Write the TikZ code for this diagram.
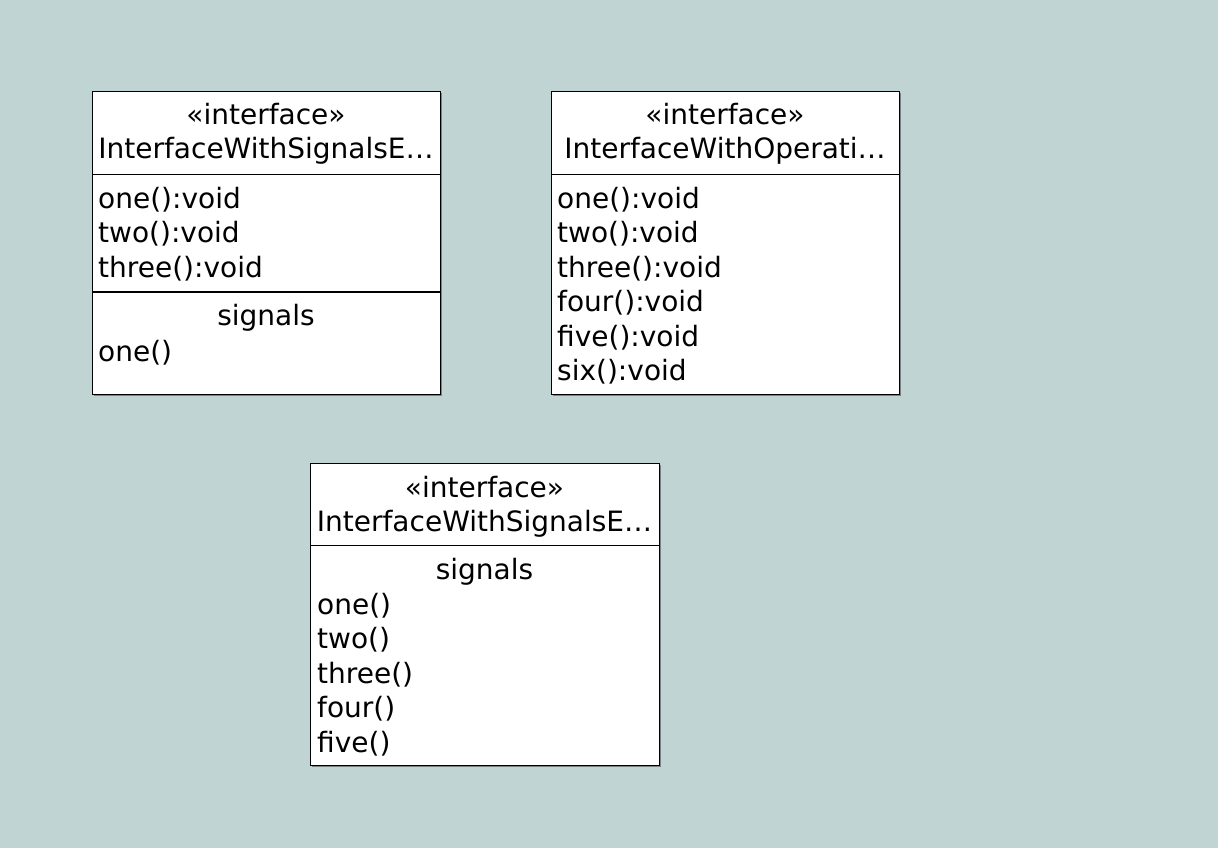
\documentclass[tikz,border=0pt]{standalone}
\usepackage{fontspec}
\setmainfont{DejaVu Sans}
\definecolor{bgc}{RGB}{191,212,211}
\definecolor{shd}{RGB}{120,130,130}
\begin{document}
\begin{tikzpicture}[x=1pt,y=-1pt,
  umlbox/.style={draw=black,fill=white,line width=1.3pt,inner sep=0pt,anchor=north west},
  shadowline/.style={draw=shd,line width=0.8pt},
  divline/.style={draw=black,line width=1.3pt},
  lbl/.style={inner sep=0pt,anchor=base west,font=\fontsize{28}{34}\selectfont},
  ttl/.style={inner sep=0pt,anchor=base,font=\fontsize{28}{34}\selectfont}]
\useasboundingbox (0,0) rectangle (1231,861);
\fill[white] (0,0) rectangle (1231,861);
\fill[bgc] (0,0) rectangle (1218,848);
% Box 1
\draw[shadowline] (441.5,93) -- (441.5,395.5) -- (94,395.5);
\node[umlbox,minimum width=348pt,minimum height=303pt] (b1) at (92,91) {};
\coordinate (b1d1) at (92,174.5);
\coordinate (b1d2) at (92,292);
\draw[divline] (b1d1) -- (b1d1 -| b1.east);
\draw[divline] (b1d2) -- (b1d2 -| b1.east);
\node[ttl] (b1s) at (266,125) {«interface»};
\node[ttl] (b1n) at (266,159) {InterfaceWithSignalsE…};
\node[lbl] (b1o1) at (98,208) {one():void};
\node[lbl] (b1o2) at (98,242.5) {two():void};
\node[lbl] (b1o3) at (98,277) {three():void};
\node[ttl] (b1sg) at (266,325.5) {signals};
\node[lbl] (b1g1) at (98,361) {one()};
% Box 2
\draw[shadowline] (900.5,93) -- (900.5,395.5) -- (553,395.5);
\node[umlbox,minimum width=348pt,minimum height=303pt] (b2) at (551,91) {};
\coordinate (b2d1) at (551,174.5);
\draw[divline] (b2d1) -- (b2d1 -| b2.east);
\node[ttl] (b2s) at (725,125) {«interface»};
\node[ttl] (b2n) at (725,159) {InterfaceWithOperati…};
\node[lbl] (b2o1) at (557,208) {one():void};
\node[lbl] (b2o2) at (557,242.5) {two():void};
\node[lbl] (b2o3) at (557,277) {three():void};
\node[lbl] (b2o4) at (557,311.5) {four():void};
\node[lbl] (b2o5) at (557,346) {five():void};
\node[lbl] (b2o6) at (557,380.5) {six():void};
% Box 3
\draw[shadowline] (660.5,465) -- (660.5,766.5) -- (312,766.5);
\node[umlbox,minimum width=349pt,minimum height=302pt] (b3) at (310,463) {};
\coordinate (b3d1) at (310,545.5);
\draw[divline] (b3d1) -- (b3d1 -| b3.east);
\node[ttl] (b3s) at (484.5,497) {«interface»};
\node[ttl] (b3n) at (484.5,531) {InterfaceWithSignalsE…};
\node[ttl] (b3sg) at (484.5,579) {signals};
\node[lbl] (b3g1) at (317,614) {one()};
\node[lbl] (b3g2) at (317,648.5) {two()};
\node[lbl] (b3g3) at (317,683) {three()};
\node[lbl] (b3g4) at (317,717.5) {four()};
\node[lbl] (b3g5) at (317,752) {five()};
\end{tikzpicture}
\end{document}
